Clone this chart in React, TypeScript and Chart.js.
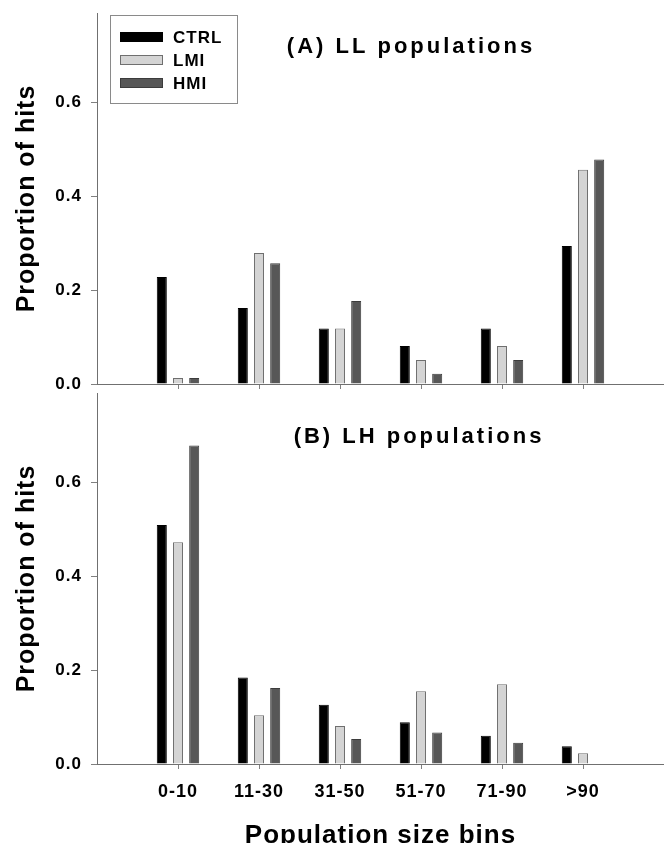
import React, { useEffect, useRef } from 'react';
import { Chart, registerables } from 'chart.js';

Chart.register(...registerables);

const FONT = '"Liberation Sans", Arial, Helvetica, sans-serif';

const categories = ['', '0-10', '11-30', '31-50', '51-70', '71-90', '>90', ''];
const seriesNames = ['CTRL', 'LMI', 'HMI'];
const seriesFill = ['#000000', '#d4d4d4', '#575757'];
const seriesBorder = ['#000000', '#6f6f6f', '#3c3c3c'];

// (A) LL populations
const llCtrl = [null, 0.228, 0.162, 0.118, 0.081, 0.118, 0.294, null];
const llLmi = [null, 0.013, 0.279, 0.118, 0.051, 0.081, 0.456, null];
const llHmi = [null, 0.013, 0.257, 0.177, 0.022, 0.051, 0.478, null];

// (B) LH populations
const lhCtrl = [null, 0.509, 0.184, 0.126, 0.089, 0.060, 0.038, null];
const lhLmi = [null, 0.472, 0.104, 0.081, 0.155, 0.170, 0.023, null];
const lhHmi = [null, 0.678, 0.162, 0.053, 0.067, 0.045, null, null];

const yTicks = [0, 0.2, 0.4, 0.6];
const yMax = 0.79;

const titleA = '(A) LL populations';
const titleB = '(B) LH populations';
const yTitle = 'Proportion of hits';
const xTitle = 'Population size bins';

const panelText = {
  id: 'panelText',
  beforeDraw(chart: any) {
    (chart.ctx as any).letterSpacing = '1px';
  },
  afterDraw(chart: any, _args: any, opts: any) {
    const { ctx, chartArea } = chart;
    ctx.save();
    (ctx as any).letterSpacing = '3px';
    ctx.font = `bold 22px ${FONT}`;
    ctx.fillStyle = '#000';
    ctx.textAlign = 'center';
    ctx.textBaseline = 'middle';
    ctx.fillText(opts.title, chartArea.left + opts.titleDx, chartArea.top + opts.titleDy);
    if (opts.legend) {
      const bx = chartArea.left + 13;
      const by = chartArea.top + 2;
      ctx.strokeStyle = '#8a8a8a';
      ctx.lineWidth = 1;
      ctx.strokeRect(Math.round(bx) + 0.5, Math.round(by) + 0.5, 127, 88);
      (ctx as any).letterSpacing = '1px';
      ctx.font = `bold 17px ${FONT}`;
      ctx.textAlign = 'left';
      chart.data.datasets.forEach((ds: any, i: number) => {
        const cy = by + 22 + i * 23;
        ctx.fillStyle = ds.backgroundColor;
        ctx.fillRect(bx + 10, cy - 5, 43, 10);
        ctx.strokeStyle = ds.borderColor;
        ctx.strokeRect(bx + 10.5, cy - 4.5, 42, 9);
        ctx.fillStyle = '#000';
        ctx.fillText(ds.label, bx + 63, cy + 1);
      });
    }
    ctx.restore();
  },
};

function makeDatasets(values: (number | null)[][]) {
  return values.map((data, i) => ({
    label: seriesNames[i],
    data,
    backgroundColor: seriesFill[i],
    borderColor: seriesBorder[i],
    borderWidth: 1,
    categoryPercentage: 0.6,
    barPercentage: 0.62,
  }));
}

function makeConfig(
  values: (number | null)[][],
  top: boolean,
  title: string,
  titleDx: number,
  titleDy: number,
  padTop: number,
  xHeight: number
): any {
  return {
    type: 'bar',
    data: { labels: categories, datasets: makeDatasets(values) },
    plugins: [panelText],
    options: {
      responsive: false,
      animation: false,
      devicePixelRatio: 1,
      layout: { padding: { top: padTop, left: 0, right: 0, bottom: 0 } },
      plugins: {
        legend: { display: false },
        tooltip: { enabled: false },
        panelText: { title, titleDx, titleDy, legend: top },
      },
      scales: {
        x: {
          type: 'category',
          offset: false,
          afterFit: (s: any) => {
            s.height = xHeight;
            s.paddingLeft = 0;
            s.paddingRight = 0;
          },
          grid: {
            offset: false,
            drawOnChartArea: false,
            drawTicks: true,
            tickLength: 5,
            color: (c: any) =>
              c.index === 0 || c.index === categories.length - 1 ? 'rgba(0,0,0,0)' : '#808080',
          },
          border: { display: true, color: '#707070', width: 1 },
          ticks: {
            display: !top,
            autoSkip: false,
            maxRotation: 0,
            minRotation: 0,
            padding: 12,
            color: '#000',
            font: { family: FONT, size: 18, weight: 'bold' },
          },
          title: {
            display: !top,
            text: xTitle,
            color: '#000',
            font: { family: FONT, size: 26, weight: 'bold' },
            padding: { top: 0, bottom: -8 },
          },
        },
        y: {
          min: 0,
          max: yMax,
          afterFit: (s: any) => {
            s.width = 97;
            s.paddingTop = 0;
            s.paddingBottom = 0;
          },
          afterBuildTicks: (s: any) => {
            s.ticks = yTicks.map((v) => ({ value: v }));
          },
          grid: {
            drawOnChartArea: false,
            drawTicks: true,
            tickLength: 6,
            color: '#808080',
          },
          border: { display: true, color: '#707070', width: 1 },
          ticks: {
            padding: 9,
            color: '#000',
            font: { family: FONT, size: 17, weight: 'bold' },
            callback: (v: any) => Number(v).toFixed(1),
          },
          title: {
            display: true,
            text: yTitle,
            color: '#000',
            font: { family: FONT, size: 25, weight: 'bold' },
            padding: { top: 12, bottom: 0 },
          },
        },
      },
    },
  };
}

export default function App() {
  const refA = useRef<HTMLCanvasElement>(null);
  const refB = useRef<HTMLCanvasElement>(null);

  useEffect(() => {
    const a = new Chart(
      refA.current as HTMLCanvasElement,
      makeConfig([llCtrl, llLmi, llHmi], true, titleA, 314, 34, 13, 6)
    );
    const b = new Chart(
      refB.current as HTMLCanvasElement,
      makeConfig([lhCtrl, lhLmi, lhHmi], false, titleB, 322, 44, 3, 79)
    );
    return () => {
      a.destroy();
      b.destroy();
    };
  }, []);

  return (
    <div
      style={{
        position: 'absolute',
        left: 0,
        top: 0,
        width: 664,
        height: 843,
        overflow: 'hidden',
        background: '#fff',
      }}
    >
      <canvas
        ref={refA}
        width={664}
        height={390}
        style={{ position: 'absolute', left: 0, top: 0, width: 664, height: 390, display: 'block' }}
      />
      <canvas
        ref={refB}
        width={664}
        height={453}
        style={{ position: 'absolute', left: 0, top: 390, width: 664, height: 453, display: 'block' }}
      />
    </div>
  );
}
